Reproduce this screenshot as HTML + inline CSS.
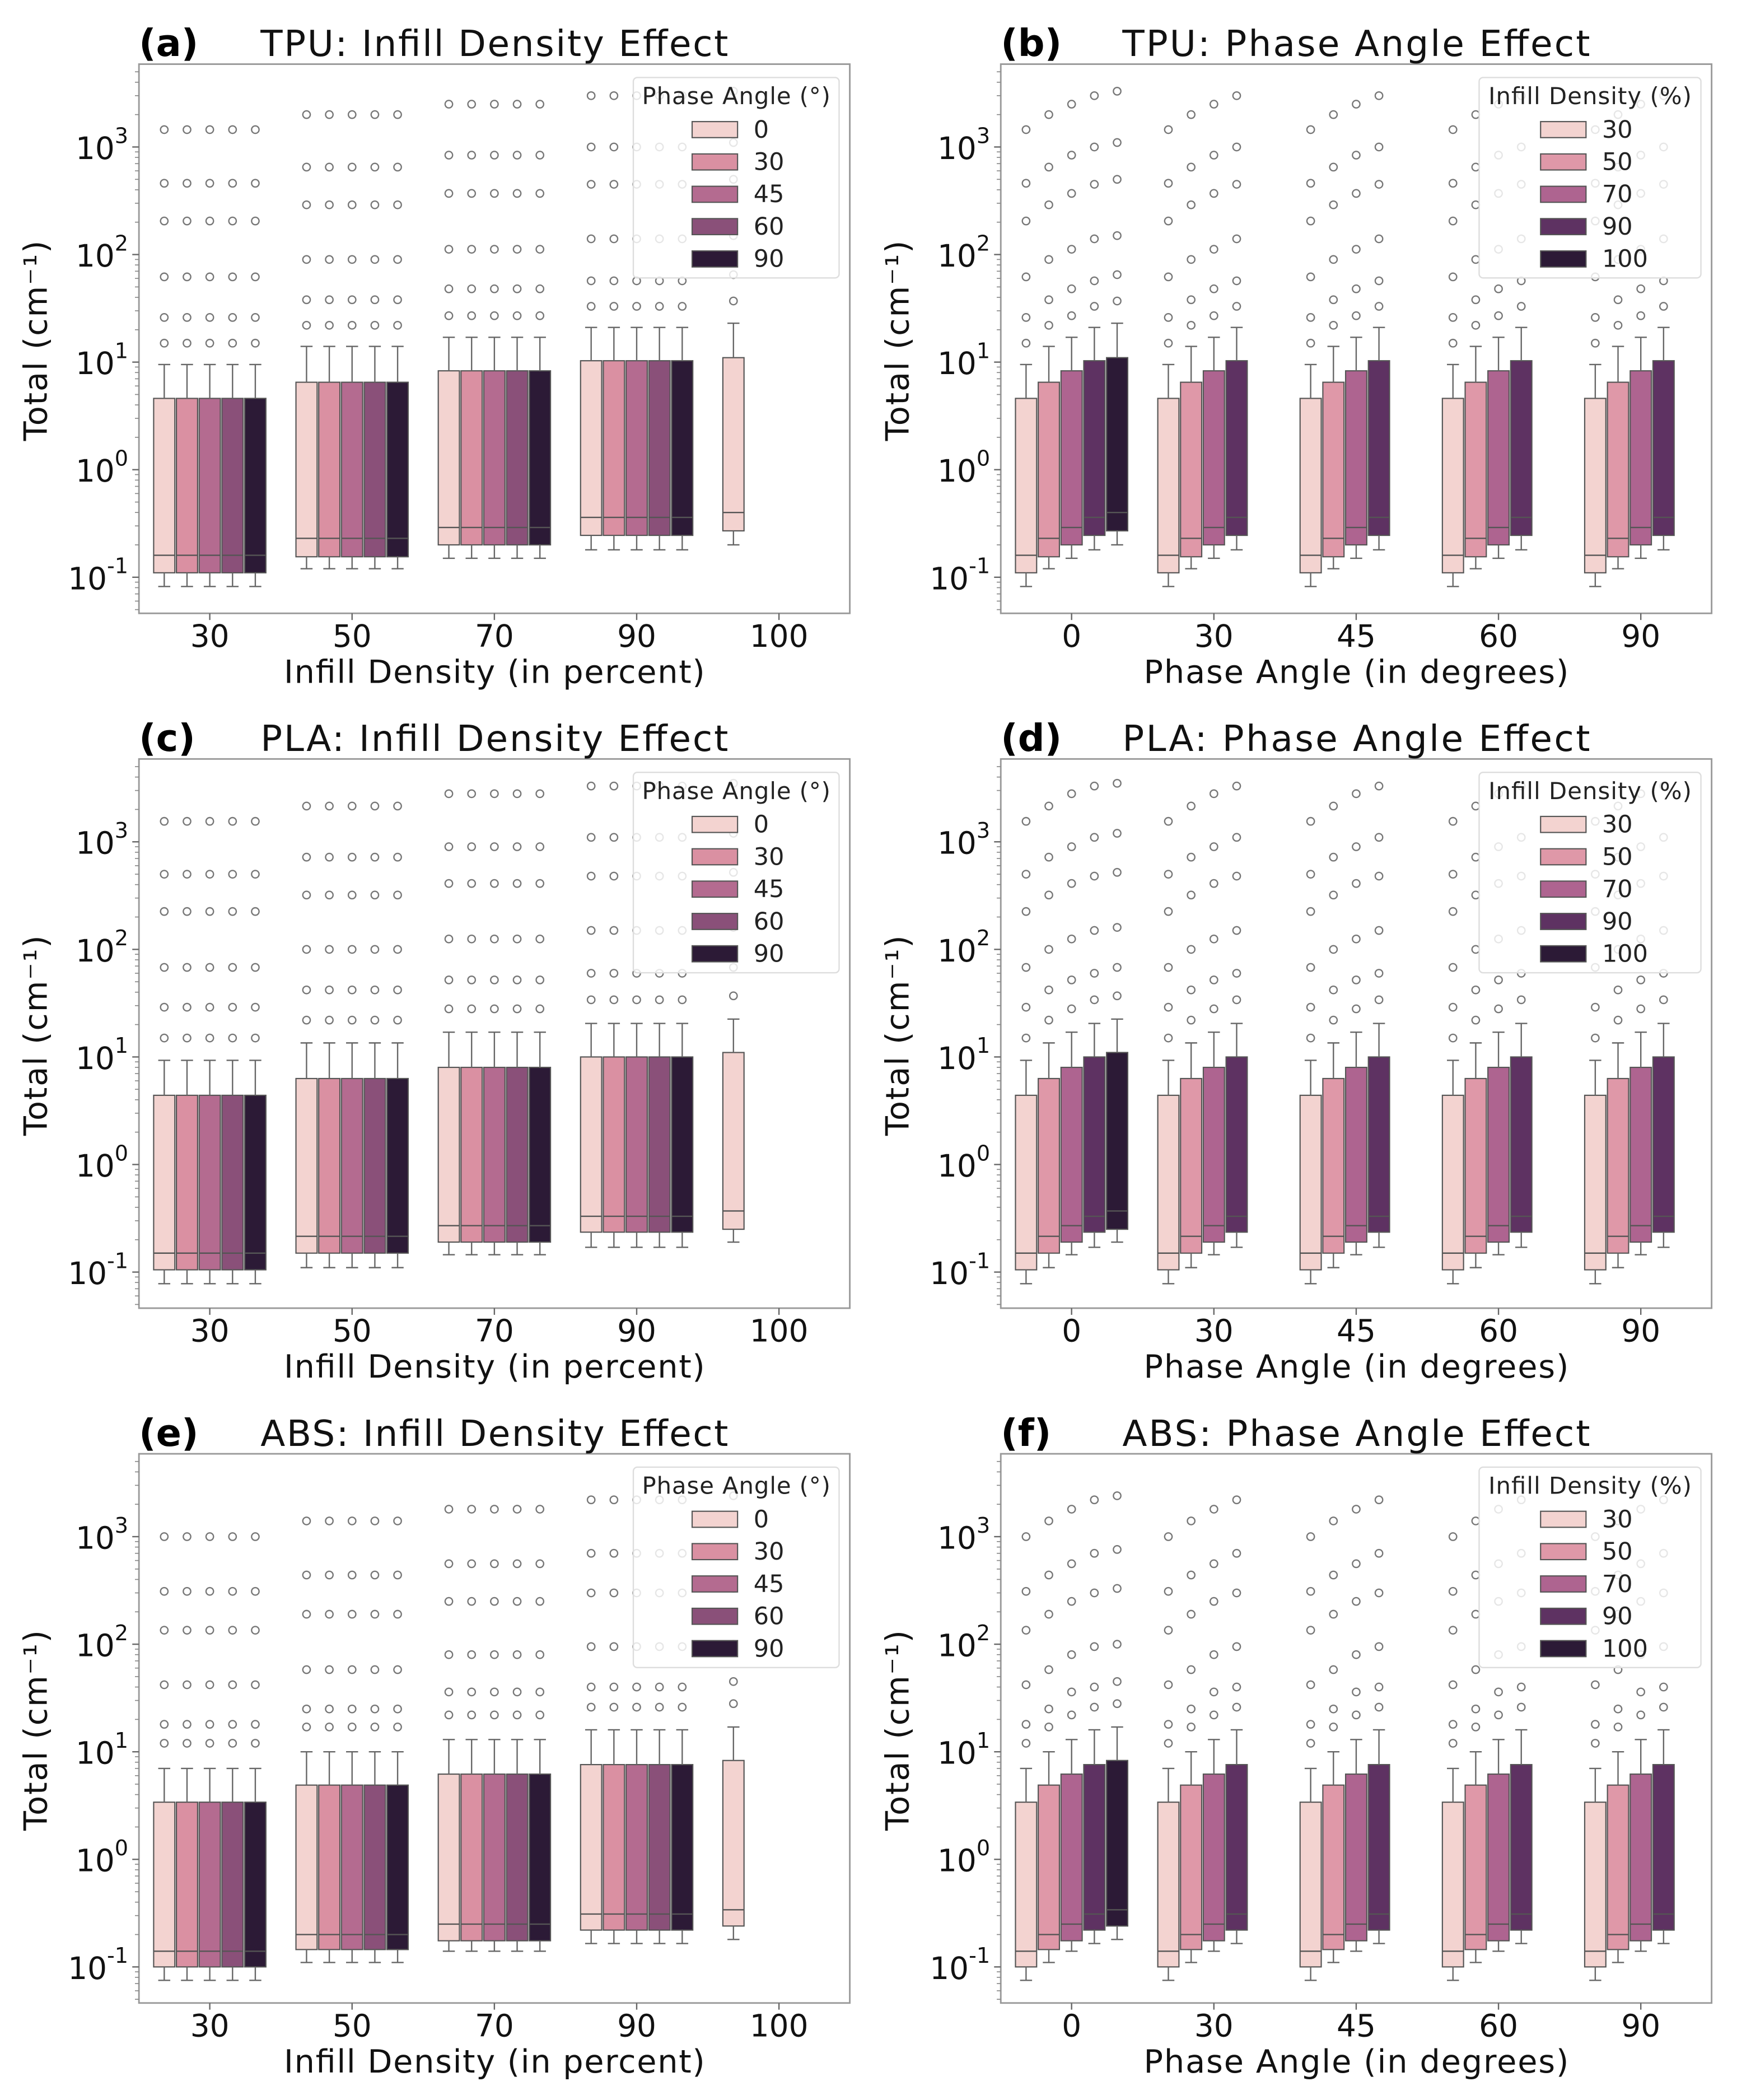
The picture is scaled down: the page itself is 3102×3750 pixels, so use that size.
<!DOCTYPE html>
<html><head><meta charset="utf-8"><style>
html,body{margin:0;padding:0;background:#fff;}
svg{display:block;font-family:"DejaVu Sans","Liberation Sans",sans-serif;}
</style></head><body>
<svg id="fig" width="3102" height="3750" viewBox="0 0 1300 1571.6" preserveAspectRatio="none" xmlns="http://www.w3.org/2000/svg"></svg>
<script>
const densities = [30, 50, 70, 90, 100];
const angles = [0, 30, 45, 60, 90];
const materials = ["TPU", "PLA", "ABS"];
const yTickLabels = ["10", "10", "10", "10", "10"];
const yTickExps = ["-1", "0", "1", "2", "3"];
const tpuQ1 = [0.11, 0.155, 0.2, 0.245, 0.27];
const tpuMed = [0.16, 0.23, 0.29, 0.36, 0.4];
const tpuQ3 = [4.6, 6.5, 8.3, 10.3, 11];
const tpuLo = [0.082, 0.12, 0.15, 0.18, 0.2];
const tpuHi = [9.5, 14, 17, 21, 23];
const tpuOut = [[15,26,62,205,460,1450],[22,38,90,290,650,2000],[27,48,112,370,840,2500],[33,57,140,450,1000,3000],[37,65,150,500,1100,3300]];
const plaQ1 = [0.105, 0.15, 0.19, 0.235, 0.25];
const plaMed = [0.15, 0.215, 0.27, 0.33, 0.37];
const plaQ3 = [4.4, 6.3, 8.0, 10.0, 11];
const plaLo = [0.078, 0.11, 0.145, 0.17, 0.19];
const plaHi = [9.3, 13.5, 17, 20.5, 22.5];
const plaOut = [[15,29,68,225,500,1550],[22,42,100,320,720,2150],[28,52,125,410,900,2800],[34,60,150,480,1100,3300],[37,68,160,520,1200,3500]];
const absQ1 = [0.1, 0.145, 0.175, 0.22, 0.24];
const absMed = [0.14, 0.2, 0.25, 0.31, 0.34];
const absQ3 = [3.4, 4.9, 6.2, 7.6, 8.3];
const absLo = [0.075, 0.11, 0.14, 0.165, 0.18];
const absHi = [7, 10, 13, 16, 17];
const absOut = [[12,18,42,135,310,1000],[17,25,58,190,440,1400],[22,36,80,250,560,1800],[26,40,95,300,700,2200],[28,45,100,330,760,2400]];
const paletteA = ["#f3d3d0", "#da90a2", "#b46b90", "#8a5079", "#2c1a36"];
const paletteB = ["#f3d3d0", "#df98a8", "#ae6490", "#5e3262", "#2c1a36"];

const svg = document.getElementById('fig');
const NS = "http://www.w3.org/2000/svg";
function mk(tag, attrs, parent) {
  const e = document.createElementNS(NS, tag);
  for (const k in attrs) e.setAttribute(k, attrs[k]);
  (parent || svg).appendChild(e);
  return e;
}
const statsAll = [
  [tpuQ1, tpuMed, tpuQ3, tpuLo, tpuHi, tpuOut],
  [plaQ1, plaMed, plaQ3, plaLo, plaHi, plaOut],
  [absQ1, absMed, absQ3, absLo, absHi, absOut]
];
const rowTops = [48, 568, 1088];
const colLefts = [104, 749];
const W = 532, H = 411, DEC = 80.5, GS = 106.5, BW = 17.04;
const letters = [["(a)","(b)"],["(c)","(d)"],["(e)","(f)"]];

for (let r = 0; r < 3; r++) {
  const st = statsAll[r];
  for (let c = 0; c < 2; c++) {
    const L = colLefts[c], T = rowTops[r];
    const g = mk('g', {});
    
    
    const yS = v => T + 384 - (Math.log10(v) + 1) * DEC;
    const xS = i => L + 53 + i * GS;
    const fr = mk('rect', {x: L, y: T, width: W, height: H, fill: 'none', stroke: '#999', 'stroke-width': 1.2}, g);
    
    
    for (let k = 0; k < 5; k++) {
      const yy = yS(Math.pow(10, k - 1));
      mk('line', {x1: L - 5, x2: L, y1: yy, y2: yy, stroke: '#666', 'stroke-width': 1}, g);
      const t = mk('text', {x: L - 8, y: yy + 9, 'text-anchor': 'end', 'font-size': 23, fill: '#111'}, g);
      
      
      t.textContent = yTickLabels[k];
      const sp = mk('tspan', {dy: -12, 'font-size': 16}, t);
      sp.textContent = yTickExps[k];
      for (let m = 2; m < 10 && k < 4; m++) {
        const ym = yS(Math.pow(10, k - 1) * m);
        mk('line', {x1: L - 3, x2: L, y1: ym, y2: ym, stroke: '#888', 'stroke-width': 0.7}, g);
      }
    }
    for (let m = 5; m < 10; m++) { const ym = yS(0.01 * m); if (ym < T + H) mk('line', {x1: L - 3, x2: L, y1: ym, y2: ym, stroke: '#888', 'stroke-width': 0.7}, g); }
    for (let m = 2; m < 6; m++) { const ym = yS(1000 * m); if (ym > T) mk('line', {x1: L - 3, x2: L, y1: ym, y2: ym, stroke: '#888', 'stroke-width': 0.7}, g); }
    const cats = c === 0 ? densities : angles;
    for (let i = 0; i < 5; i++) {
      mk('line', {x1: xS(i), x2: xS(i), y1: T + H, y2: T + H + 5, stroke: '#666', 'stroke-width': 1}, g);
      const t = mk('text', {x: xS(i), y: T + H + 25, 'text-anchor': 'middle', 'font-size': 23, fill: '#111'}, g);
      
      
      t.textContent = cats[i];
    }
    const pal = c === 0 ? paletteA : paletteB;
    for (let gi = 0; gi < 5; gi++) {
      for (let h = 0; h < 5; h++) {
        const di = c === 0 ? gi : h;
        const ai = c === 0 ? h : gi;
        if (di === 4 && ai !== 0) continue;
        const cx = xS(gi) + (h - 2) * BW;
        const q1 = st[0][di], med = st[1][di], q3 = st[2][di], lo = st[3][di], hi = st[4][di];
        const bx = mk('rect', {x: cx - BW / 2 + 0.6, y: yS(q3), width: BW - 1.2, height: yS(q1) - yS(q3), fill: pal[h], stroke: '#555', 'stroke-width': 0.9}, g);
        
        
        mk('line', {x1: cx - BW / 2 + 0.6, x2: cx + BW / 2 - 0.6, y1: yS(med), y2: yS(med), stroke: '#555', 'stroke-width': 1}, g);
        mk('line', {x1: cx, x2: cx, y1: yS(q3), y2: yS(hi), stroke: '#666', 'stroke-width': 1}, g);
        mk('line', {x1: cx, x2: cx, y1: yS(q1), y2: yS(lo), stroke: '#666', 'stroke-width': 1}, g);
        mk('line', {x1: cx - 4.5, x2: cx + 4.5, y1: yS(hi), y2: yS(hi), stroke: '#666', 'stroke-width': 1}, g);
        mk('line', {x1: cx - 4.5, x2: cx + 4.5, y1: yS(lo), y2: yS(lo), stroke: '#666', 'stroke-width': 1}, g);
        for (const o of st[5][di]) {
          const yo = yS(o);
          if (yo < T + 4) continue;
          const ci = mk('circle', {cx: cx, cy: yo, r: 2.8, fill: 'none', stroke: '#777', 'stroke-width': 1}, g);
          
          
        }
      }
    }
    const lx = c === 0 ? L + 370 : L + 358, lw = c === 0 ? 154 : 166;
    const lg = mk('g', {}, g);
    
    
    mk('rect', {x: lx, y: T + 10, width: lw, height: 150, rx: 3, fill: '#fff', 'fill-opacity': 0.82, stroke: '#ddd', 'stroke-width': 1}, lg);
    const lt = mk('text', {x: lx + lw / 2, y: T + 30, 'text-anchor': 'middle', 'font-size': 17.5, fill: '#222', textLength: c === 0 ? 141 : 152}, lg);
    
    
    lt.textContent = c === 0 ? "Phase Angle (°)" : "Infill Density (%)";
    const labs = c === 0 ? angles : densities;
    const px = c === 0 ? lx + 44 : lx + 46;
    for (let h = 0; h < 5; h++) {
      const yy = T + 43 + h * 24.2;
      const pr = mk('rect', {x: px, y: yy, width: 34, height: 12, fill: pal[h], stroke: '#555', 'stroke-width': 0.9}, lg);
      
      
      const tx = mk('text', {x: px + 46, y: yy + 12, 'font-size': 18, fill: '#222'}, lg);
      
      
      tx.textContent = labs[h];
    }
    const pl = mk('text', {x: L, y: T - 6, 'font-size': 28, 'font-weight': 'bold', fill: '#000'}, g);
    
    
    pl.textContent = letters[r][c];
    const ti = mk('text', {x: L + 266, y: T - 6, 'text-anchor': 'middle', 'font-size': 27, fill: '#111', textLength: 350}, g);
    
    
    ti.textContent = materials[r] + ": " + (c === 0 ? "Infill Density Effect" : "Phase Angle Effect");
    const xl = mk('text', {x: L + 266, y: T + H + 52, 'text-anchor': 'middle', 'font-size': 24, fill: '#111', textLength: c === 0 ? 315 : 318}, g);
    
    
    xl.textContent = c === 0 ? "Infill Density (in percent)" : "Phase Angle (in degrees)";
    const yl = mk('text', {x: 0, y: 0, 'text-anchor': 'middle', 'font-size': 24, fill: '#111', textLength: 150, transform: 'translate(' + (L - 69) + ',' + (T + 207) + ') rotate(-90)'}, g);
    
    
    yl.textContent = "Total (cm⁻¹)";
  }
}
</script>
</body></html>
